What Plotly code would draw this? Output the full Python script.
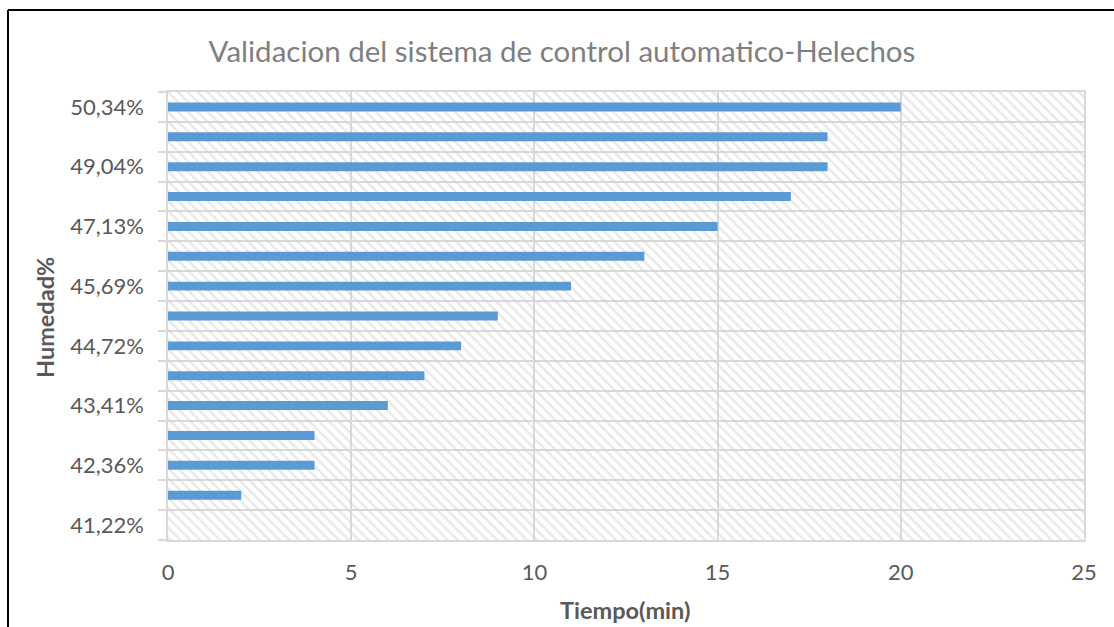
import plotly.graph_objects as go

# Humidity readings (bottom to top); only every other reading is labelled
humedad = ["41,22%", "", "42,36%", "", "43,41%", "", "44,72%", "",
           "45,69%", "", "47,13%", "", "49,04%", "", "50,34%"]
# Elapsed time (min) at each humidity reading
tiempo = [0, 2, 4, 4, 6, 7, 8, 9, 11, 13, 15, 17, 18, 18, 20]

x_max = 25
pos = list(range(len(humedad)))

# plot area in pixels (for the outer frame lines)
W, H = 1114, 627
ML, MR, MT, MB = 168, 30, 92, 87
PW, PH = W - ML - MR, H - MT - MB


def px_x(p):
    return (p - ML) / PW


def px_y(p):
    return (H - MB - p) / PH


gray_txt = "#595959"
font_fam = "Lato, 'Open Sans', sans-serif"
tick_size = 22

fig = go.Figure()

# hatched background of the plotting area
fig.add_trace(go.Bar(
    x=[x_max] * len(pos), y=pos, orientation="h", width=1,
    marker=dict(color="rgba(0,0,0,0)", line=dict(width=0),
                pattern=dict(shape="\\", fgcolor="#d2d2d2",
                             bgcolor="rgba(0,0,0,0)", size=7, solidity=0.35)),
    hoverinfo="skip", showlegend=False,
))

# data bars
fig.add_trace(go.Bar(
    x=tiempo, y=pos, orientation="h", width=0.3,
    marker=dict(color="#5B9BD5", line=dict(width=0)),
    showlegend=False,
))

fig.update_layout(
    width=W, height=H,
    margin=dict(l=ML, r=MR, t=MT, b=MB),
    paper_bgcolor="white", plot_bgcolor="white",
    barmode="overlay",
    font=dict(family=font_fam, color=gray_txt, size=tick_size),
    title=dict(text="Validacion del sistema de control automatico-Helechos",
               x=(562) / W, xanchor="center", y=1 - 52 / H, yanchor="middle",
               xref="container", yref="container",
               font=dict(size=29.5, color="#7f7f7f", family=font_fam)),
    xaxis=dict(range=[0, x_max], dtick=5, tick0=0,
               showgrid=True, gridcolor="#d9d9d9", gridwidth=1.5,
               zeroline=False, showline=True, linecolor="#d9d9d9",
               linewidth=1.5, mirror=True, ticks="",
               ticklabelstandoff=12,
               tickfont=dict(size=tick_size, color=gray_txt)),
    yaxis=dict(range=[-0.5, len(pos) - 0.5],
               tickvals=pos, ticktext=humedad,
               showgrid=False, zeroline=False,
               showline=True, linecolor="#d9d9d9", linewidth=1.5, mirror=True,
               ticks="outside", ticklen=8, tickcolor="rgba(0,0,0,0)",
               ticklabelstandoff=10,
               tickfont=dict(size=tick_size, color=gray_txt),
               minor=dict(tick0=0.5, dtick=1, showgrid=True,
                          gridcolor="#d9d9d9", gridwidth=1.5,
                          ticks="outside", ticklen=8, tickcolor="#d9d9d9",
                          tickwidth=1.5)),
    annotations=[
        dict(text="<b>Tiempo(min)</b>", xref="paper", yref="paper",
             x=px_x(625), y=px_y(610), xanchor="center", yanchor="middle",
             showarrow=False, font=dict(size=23.5, color=gray_txt)),
        dict(text="<b>Humedad%</b>", xref="paper", yref="paper",
             x=px_x(45), y=px_y(318), xanchor="center", yanchor="middle",
             textangle=-90, showarrow=False,
             font=dict(size=23.5, color=gray_txt)),
    ],
    shapes=[
        dict(type="line", xref="paper", yref="paper",
             x0=px_x(8), x1=px_x(8), y0=px_y(10), y1=px_y(660),
             line=dict(color="black", width=2)),
        dict(type="line", xref="paper", yref="paper",
             x0=px_x(8), x1=px_x(1130), y0=px_y(10), y1=px_y(10),
             line=dict(color="black", width=2)),
    ],
)

fig.write_html("out.html")
